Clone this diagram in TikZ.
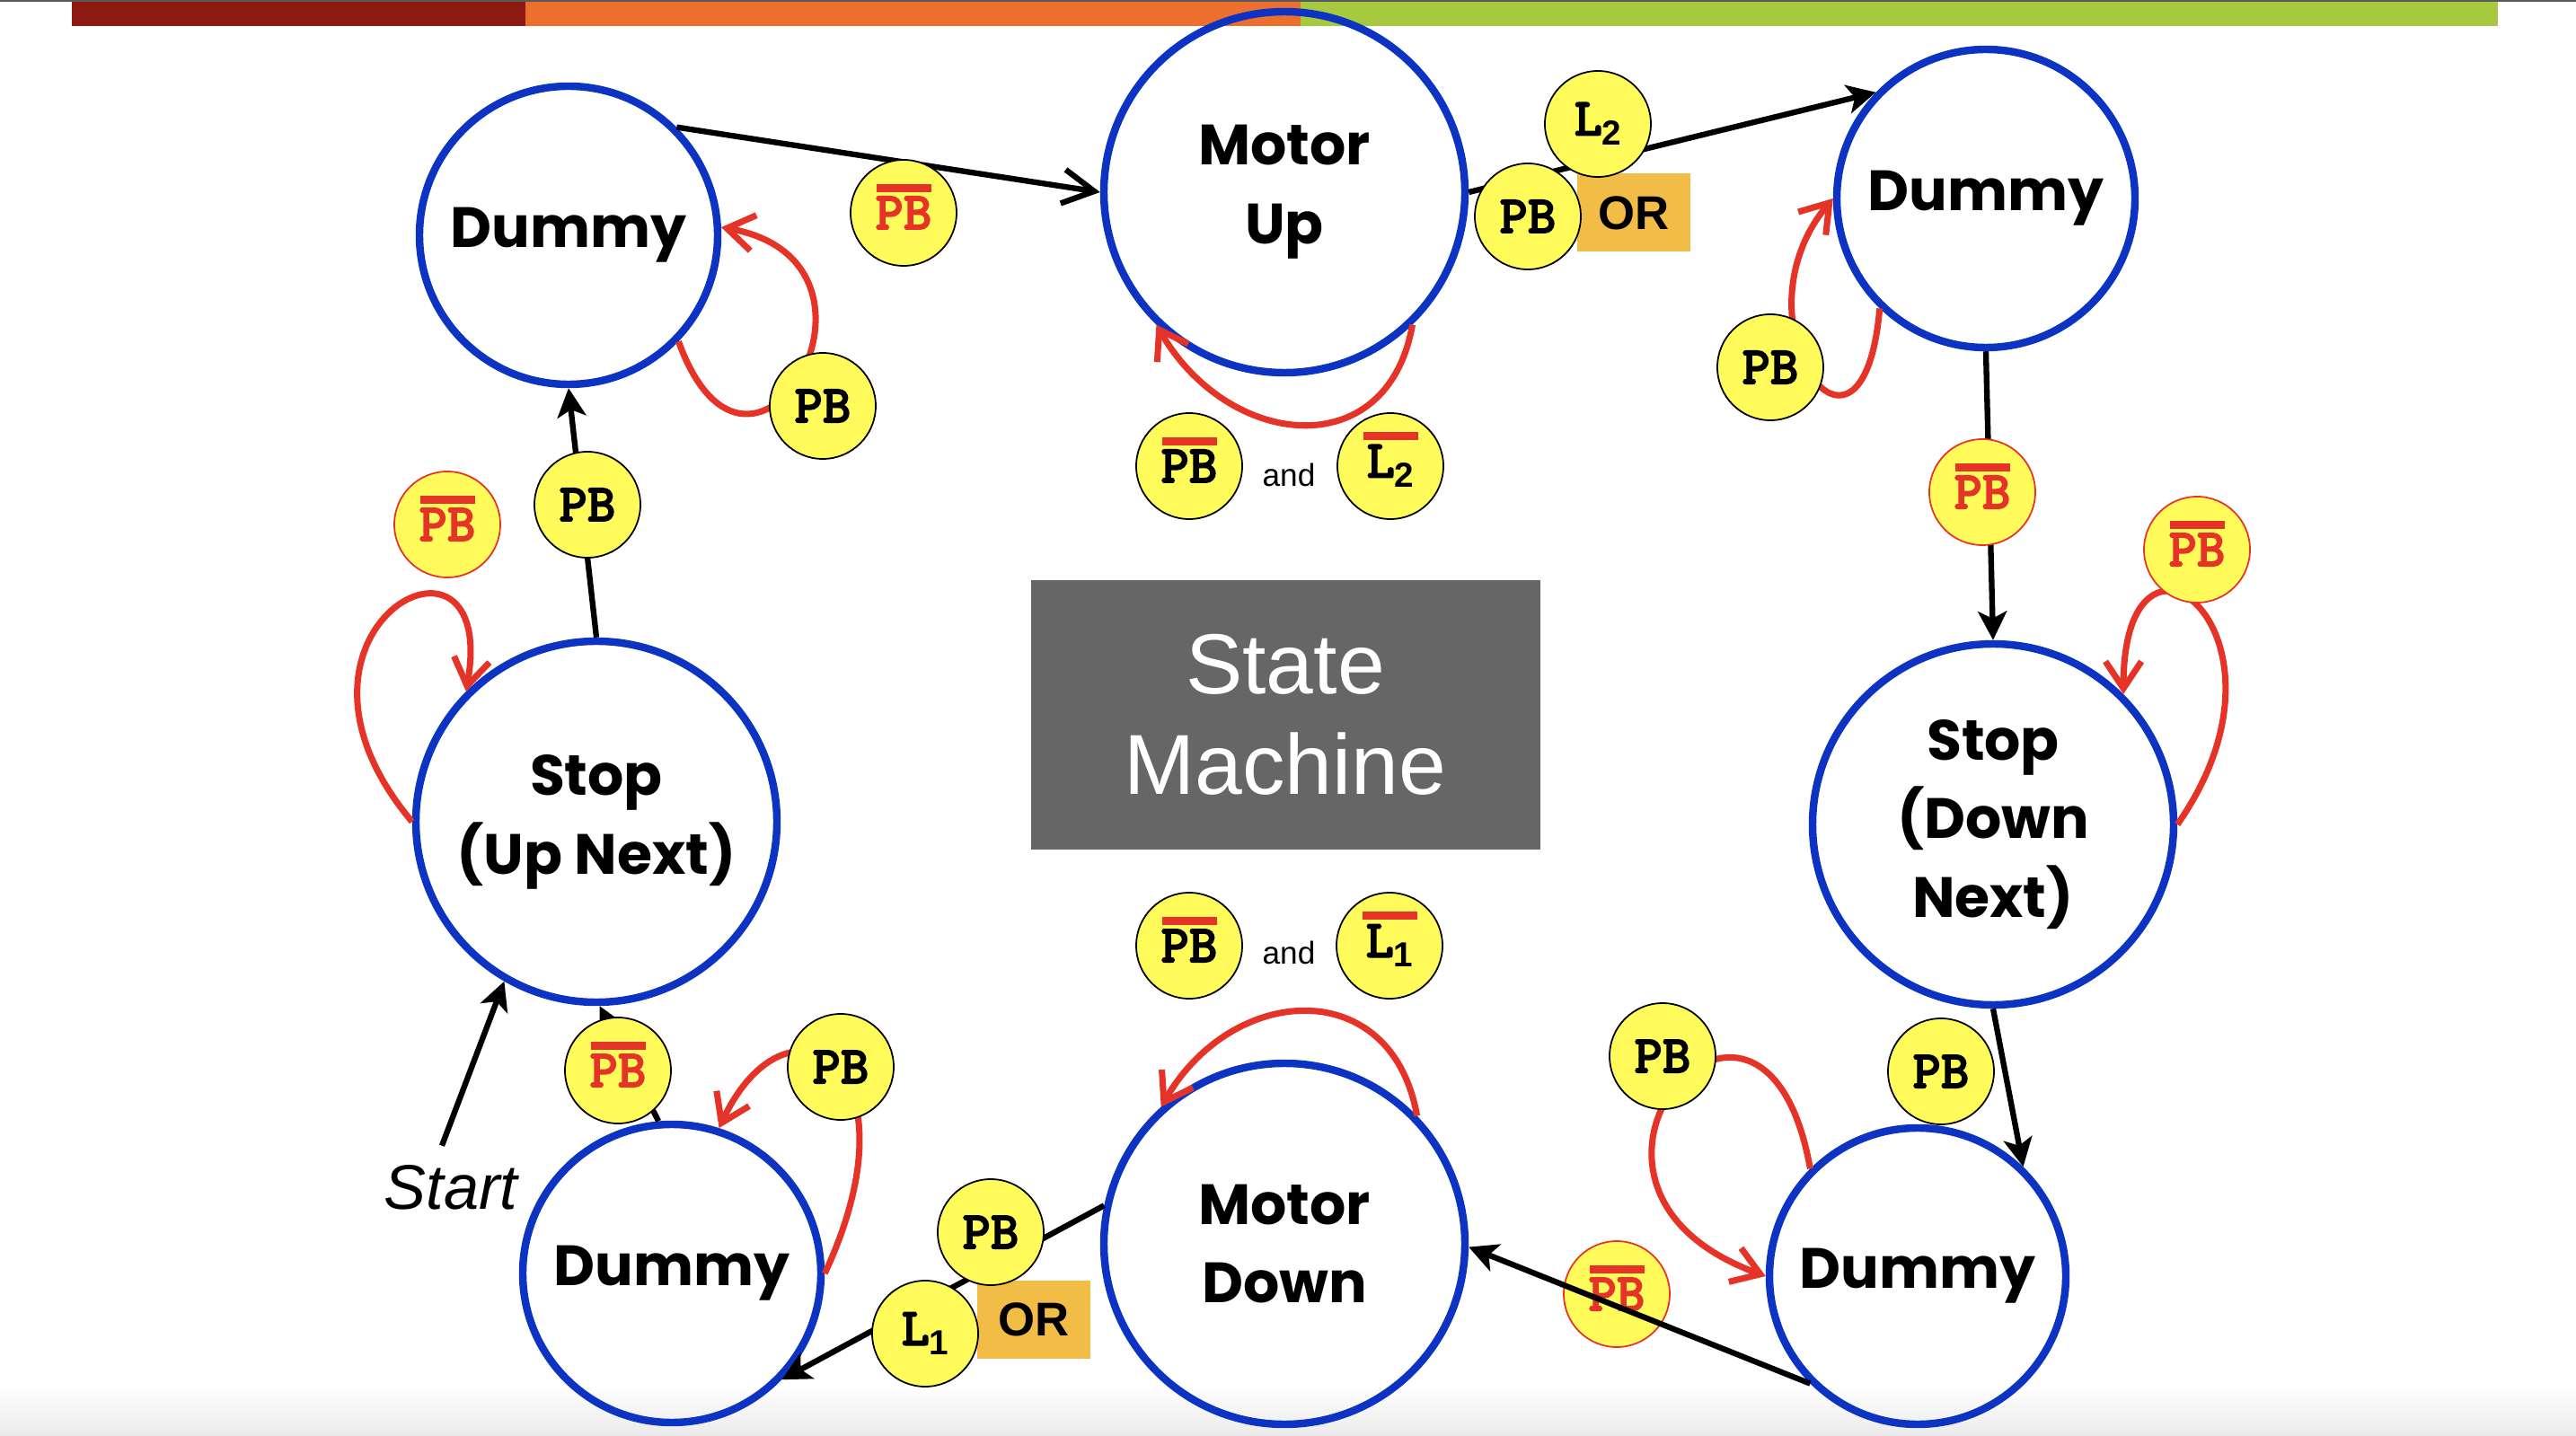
\documentclass[tikz,border=0pt]{standalone}
\usepackage{fontspec}
\setmainfont{Liberation Sans}
\setsansfont{Liberation Sans}
\newfontfamily\statefont{Poppins}
\newfontfamily\condfont{lmmonolt10-bold.otf}[FakeBold=2.5]
\usetikzlibrary{arrows.meta}

\definecolor{stateblue}{HTML}{0D33C2}
\definecolor{loopred}{HTML}{E53327}
\definecolor{condyellow}{HTML}{FFFB5B}
\definecolor{orbg}{HTML}{F2BD46}
\definecolor{titlegray}{HTML}{666666}
\definecolor{bardark}{HTML}{8C1A12}
\definecolor{barorange}{HTML}{EC6F2D}
\definecolor{bargreen}{HTML}{A6C93F}

% red bar over a condition
\newcommand{\ovl}[1]{\setbox0\hbox{#1}\hbox to\wd0{\hss\smash{\raisebox{\dimexpr\ht0+0.5mm\relax}{\color{loopred}\rule{6.1mm}{0.9mm}}}\hss}\kern-\wd0\box0}
\newcommand{\lsub}[2]{#1\raisebox{-1.1mm}{\sffamily\bfseries\fontsize{11}{11}\selectfont #2}}

\begin{document}
\begin{tikzpicture}[x=1cm,y=1cm,
  stnode/.style={circle,draw=stateblue,line width=2.4pt,minimum size=#1,inner sep=0pt,align=center,
    font=\statefont\bfseries\fontsize{18}{25}\selectfont},
  cond/.style={circle,draw=black,line width=0.5pt,fill=condyellow,minimum size=11.8mm,inner sep=0pt,
    font=\condfont\fontsize{17}{17}\selectfont},
  condr/.style={cond,draw=loopred,text=loopred},
  orbox/.style={fill=orbg,minimum width=12.6mm,minimum height=8.7mm,inner sep=0pt,
    font=\bfseries\fontsize{15}{15}\selectfont},
  trans/.style={line width=1.8pt,-{Stealth[length=3.2mm,width=3.2mm,inset=0.8mm]}},
  transv/.style={line width=1.8pt,-{Straight Barb[length=3.5mm,width=3.8mm]}},
  selfl/.style={loopred,line width=2pt,-{Straight Barb[length=3mm,width=4mm]}}]
  \useasboundingbox (0,0) rectangle (28.68,15.98);
  % --- fondo ---
  \shade[top color=white,bottom color=black!8] (0,0) rectangle (28.68,0.55);
  \fill[black!65] (0,15.96) rectangle (28.68,15.98);
  \fill[bardark] (0.80,15.69) rectangle (5.85,15.96);
  \fill[barorange] (5.85,15.69) rectangle (14.48,15.96);
  \fill[bargreen] (14.48,15.69) rectangle (27.81,15.96);
  \node[fill=titlegray,minimum width=5.67cm,minimum height=3.0cm,text=white,align=center,
    font=\fontsize{27}{32}\selectfont] (title) at (14.31,8.02) {State\\Machine};
  % --- estados ---
  \node[stnode=3.32cm] (dTL) at (6.33,13.36) {Dummy};
  \node[stnode=4.02cm] (mUp) at (14.30,13.84) {Motor\\Up};
  \node[stnode=3.32cm] (dTR) at (22.11,13.77) {Dummy};
  \node[stnode=4.02cm] (sDn) at (22.19,6.80) {Stop\\(Down\\Next)};
  \node[stnode=3.30cm] (dBR) at (21.35,1.77) {Dummy};
  \node[stnode=4.02cm] (mDn) at (14.30,2.13) {Motor\\Down};
  \node[stnode=3.32cm] (dBL) at (7.48,1.80) {Dummy};
  \node[stnode=4.02cm] (sUp) at (6.64,6.83) {Stop\\(Up Next)};
  % --- lazos ---
  \draw[selfl] (dTL.-44) .. controls +(-70:2.4) and +(-10:2.2) .. (dTL.3);
  \draw[selfl] (mUp.-46) .. controls +(-100:1.6) and +(-60:1.6) .. (mUp.-134);
  \draw[selfl] (dTR.-134) .. controls +(-95:2.2) and +(-130:1.8) .. (dTR.180);
  \draw[selfl] (sDn.0) .. controls +(55:2.6) and +(90:2.3) .. (sDn.45);
  \draw[selfl] (dBR.135) .. controls +(100:3.0) and +(160:3.0) .. (dBR.180);
  \draw[selfl] (mDn.44) .. controls +(100:1.6) and +(60:1.6) .. (mDn.132);
  \draw[selfl] (dBL.0) .. controls +(65:2.6) and +(65:1.8) .. (dBL.72);
  \draw[selfl] (sUp.180) .. controls +(130:2.8) and +(80:2.2) .. (sUp.135);
  % --- transiciones ---
  \draw[transv] (dTL.45) -- (mUp.180);
  \draw[trans] (mUp.0) -- (dTR.136);
  \draw[trans] (dTR.south) -- (sDn.north);
  \draw[trans] (sDn.south) -- (dBR.46);
  \draw[trans] (mDn.168) -- (dBL.-44);
  \draw[trans] (dBL.95) -- (sUp.-89);
  \draw[trans] (sUp.north) -- (dTL.south);
  \node[font=\itshape\fontsize{20}{20}\selectfont] (start) at (5.02,2.76) {Start};
  \draw[trans] ([shift={(-0.1,0.09)}]start.north) -- (sUp.-120);
  % --- condiciones ---
  \node[orbox] (orA) at (18.19,13.61) {OR};
  \node[orbox] (orB) at (11.51,1.29) {OR};
  \node[cond,text=loopred] (pbA) at (10.06,13.61) {\ovl{PB}};
  \node[cond] (pbB) at (9.16,11.46) {PB};
  \node[cond] (l2A) at (17.79,14.60) {\lsub{L}{2}};
  \node[cond] (pbC) at (17.01,13.57) {PB};
  \node[cond] (pbD) at (19.71,11.89) {PB};
  \node[condr] (pbE) at (22.07,10.50) {\ovl{PB}};
  \node[condr] (pbF) at (24.46,9.86) {\ovl{PB}};
  \node[cond] (pbG) at (13.24,10.79) {\ovl{PB}};
  \node[font=\fontsize{10}{10}\selectfont] (andA) at (14.35,10.69) {and};
  \node[cond] (l2B) at (15.48,10.79) {\ovl{\lsub{L}{2}}};
  \node[condr] (pbH) at (4.98,10.14) {\ovl{PB}};
  \node[cond] (pbI) at (6.54,10.36) {PB};
  \node[cond] (pbJ) at (13.24,5.45) {\ovl{PB}};
  \node[font=\fontsize{10}{10}\selectfont] (andB) at (14.35,5.37) {and};
  \node[cond] (l1A) at (15.47,5.45) {\ovl{\lsub{L}{1}}};
  \node[cond,text=loopred] (pbK) at (6.88,4.06) {\ovl{PB}};
  \node[cond] (pbL) at (9.36,4.10) {PB};
  \node[cond] (pbM) at (11.03,2.26) {PB};
  \node[cond] (l1B) at (10.30,1.13) {\lsub{L}{1}};
  \node[cond] (pbN) at (18.51,4.22) {PB};
  \node[cond] (pbO) at (21.61,4.05) {PB};
  \node[condr] (pbP) at (18.00,1.57) {\ovl{PB}};
  \draw[trans] (dBR.-135) -- (mDn.-1);
\end{tikzpicture}
\end{document}
